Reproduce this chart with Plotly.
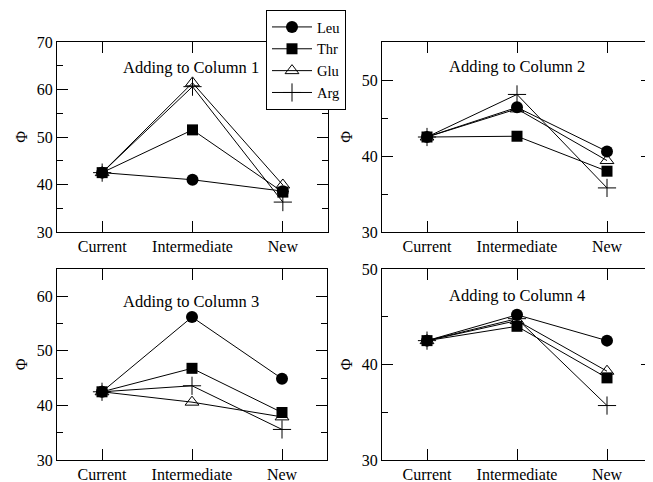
import plotly.graph_objects as go

categories = ["Current", "Intermediate", "New"]
x_pos = [0, 1, 2]
series_names = ["Leu", "Thr", "Glu", "Arg"]

col1_leu = [42.5, 41.0, 38.6]
col1_thr = [42.5, 51.5, 38.4]
col1_glu = [42.5, 61.4, 39.9]
col1_arg = [42.5, 60.6, 36.3]

col2_leu = [42.5, 46.4, 40.6]
col2_thr = [42.5, 42.6, 38.0]
col2_glu = [42.5, 46.2, 39.4]
col2_arg = [42.5, 48.1, 35.8]

col3_leu = [42.5, 56.2, 44.9]
col3_thr = [42.5, 46.8, 38.7]
col3_glu = [42.5, 40.6, 37.9]
col3_arg = [42.5, 43.6, 35.6]

col4_leu = [42.5, 45.2, 42.5]
col4_thr = [42.5, 44.0, 38.6]
col4_glu = [42.5, 44.6, 39.3]
col4_arg = [42.5, 44.8, 35.7]

panel_titles = ["Adding to Column 1", "Adding to Column 2", "Adding to Column 3", "Adding to Column 4"]
y_ranges = [[30, 70], [30, 55], [30, 65], [30, 50]]

panels = [
    [col1_leu, col1_thr, col1_glu, col1_arg],
    [col2_leu, col2_thr, col2_glu, col2_arg],
    [col3_leu, col3_thr, col3_glu, col3_arg],
    [col4_leu, col4_thr, col4_glu, col4_arg],
]

PAGE_W, PAGE_H = 653, 482
OFF = 8  # default body margin of the html page
W, H = PAGE_W - OFF, PAGE_H - OFF
FONT = "Liberation Serif, Times New Roman, serif"


def px_x(v):
    return (v - OFF) / W


def px_y(v):
    return 1 - (v - OFF) / H


# panel pixel boxes in page coordinates (left, right, top, bottom)
boxes = [(57, 328, 42, 232), (382, 652, 42, 232), (57, 327, 269, 460), (382, 652, 269, 460)]
# title centres in page pixels (x, y)
title_pos = [(191, 67), (517, 66), (191, 301), (517, 295)]

markers = [
    dict(symbol="circle", size=12, color="black"),
    dict(symbol="square", size=11, color="black"),
    dict(symbol="triangle-up-open", size=12, color="black", line=dict(width=1, color="black")),
    dict(symbol="cross-thin-open", size=13, color="black", line=dict(width=1, color="black")),
]

fig = go.Figure()
layout = {}
for i, (vals, box) in enumerate(zip(panels, boxes)):
    n = "" if i == 0 else str(i + 1)
    xa, ya = "x" + n, "y" + n
    for j, (name, v) in enumerate(zip(series_names, vals)):
        fig.add_trace(go.Scatter(
            x=x_pos, y=v, name=name, mode="lines+markers",
            line=dict(color="black", width=1), marker=markers[j],
            xaxis=xa, yaxis=ya, showlegend=(i == 0), legendrank=j,
        ))
    l, r, t, b = box
    axis_common = dict(showline=True, linecolor="black", linewidth=1, mirror="allticks",
                       ticks="inside", ticklen=11, tickcolor="black", tickwidth=1,
                       showgrid=False, zeroline=False, automargin=False,
                       tickfont=dict(family=FONT, size=16, color="black"))
    layout["xaxis" + n] = dict(domain=[px_x(l), min(px_x(r), 1.0)], anchor=ya, range=[-0.5, 2.5],
                               tickvals=x_pos, ticktext=categories, **axis_common)
    layout["yaxis" + n] = dict(domain=[px_y(b), px_y(t)], anchor=xa, range=y_ranges[i],
                               dtick=10, tick0=0,
                               minor=dict(ticks="inside", ticklen=6, dtick=5, tick0=0,
                                          tickcolor="black", showgrid=False),
                               title=dict(text="Φ", standoff=5,
                                          font=dict(family=FONT, size=16, color="black")),
                               **axis_common)
    tx, ty = title_pos[i]
    fig.add_annotation(text=panel_titles[i], xref="paper", yref="paper",
                       x=px_x(tx), y=px_y(ty), xanchor="center", yanchor="middle",
                       showarrow=False,
                       font=dict(family=FONT, size=16.5, color="black"))

fig.update_layout(
    template="none",
    width=W, height=H,
    margin=dict(l=0, r=0, t=0, b=0, autoexpand=False),
    paper_bgcolor="white", plot_bgcolor="white",
    font=dict(family=FONT, size=16, color="black"),
    showlegend=True,
    legend=dict(x=px_x(266), y=px_y(10), xanchor="left", yanchor="top",
                bgcolor="white", bordercolor="black", borderwidth=1,
                font=dict(family=FONT, size=14.5, color="black"),
                tracegroupgap=0, itemwidth=40),
    **layout,
)

fig.write_html("out.html")
